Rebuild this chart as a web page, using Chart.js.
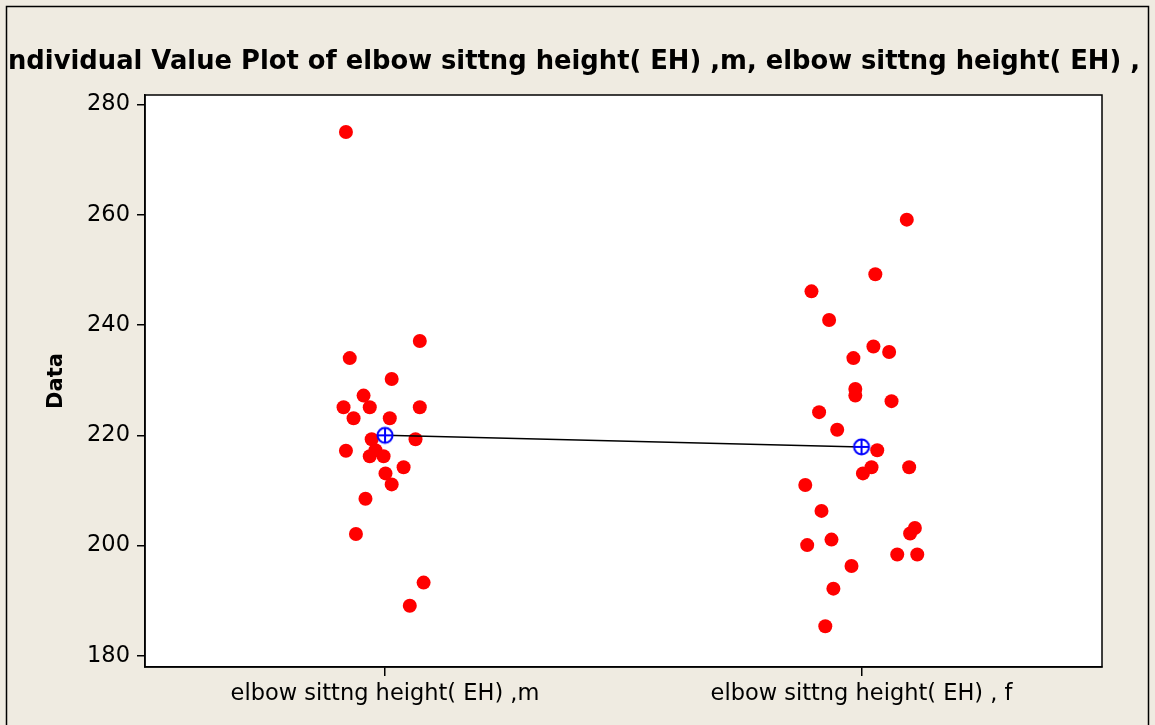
<!DOCTYPE html>
<html><head><meta charset="utf-8">
<script src="https://cdn.jsdelivr.net/npm/chart.js@4/dist/chart.umd.min.js"></script>
<style>html,body{margin:0;padding:0;background:#efebe1;} canvas{display:block;}</style>
</head><body>
<canvas id="c" width="1155" height="725"></canvas>
<script>
const titleText = "Individual Value Plot of elbow sittng height( EH) ,m, elbow sittng height( EH) , f";
const categories = ["elbow sittng height( EH) ,m", "elbow sittng height( EH) , f"];
const yTickValues = [180, 200, 220, 240, 260, 280];
const yAxisTitle = "Data";
const maleValues = [275, 237.1, 234, 230.2, 227.2, 225.1, 225.1, 225.1, 223.1, 223.1, 219.3, 219.3, 217.2, 217.3, 216.2, 216.2, 214.2, 213.1, 211.1, 208.5, 202.1, 193.3, 189.1];
const maleJitter = [-0.082, 0.073, -0.074, 0.014, -0.045, -0.087, -0.032, 0.073, -0.066, 0.010, -0.028, 0.064, -0.082, -0.020, -0.032, -0.003, 0.039, 0.001, 0.014, -0.041, -0.061, 0.081, 0.052];
const femaleValues = [259.1, 249.2, 246.1, 240.9, 236.1, 235.1, 234.0, 228.4, 227.2, 226.2, 224.2, 221.0, 217.3, 214.2, 213.1, 214.2, 211.0, 206.3, 203.2, 202.2, 201.1, 200.1, 198.4, 198.4, 196.3, 192.2, 185.4];
const femaleJitter = [0.095, 0.029, -0.105, -0.068, 0.025, 0.058, -0.017, -0.013, -0.013, 0.063, -0.089, -0.051, 0.033, 0.021, 0.003, 0.100, -0.118, -0.084, 0.112, 0.102, -0.063, -0.114, 0.075, 0.117, -0.021, -0.059, -0.076];
const groupMeans = [220.0, 217.9];

const points = [];
maleValues.forEach((v, i) => points.push({x: 1 + maleJitter[i], y: v}));
femaleValues.forEach((v, i) => points.push({x: 2 + femaleJitter[i], y: v}));
const meanPts = groupMeans.map((m, i) => ({x: i + 1, y: m}));

// mean marker: blue circle with cross
const mk = document.createElement('canvas'); mk.width = 20; mk.height = 20;
const g = mk.getContext('2d');
g.strokeStyle = '#0000ff'; g.lineWidth = 2; g.fillStyle = '#ffffff';
g.beginPath(); g.arc(10, 10, 7.5, 0, Math.PI * 2); g.fill(); g.stroke();
g.beginPath(); g.moveTo(10, 2.5); g.lineTo(10, 17.5); g.moveTo(2.5, 10); g.lineTo(17.5, 10); g.stroke();

const FONT = "'DejaVu Sans'";

const deco = {
  id: 'deco',
  beforeDraw(chart) {
    const {ctx, chartArea: a} = chart;
    ctx.save();
    ctx.fillStyle = '#efebe1';
    ctx.fillRect(0, 0, chart.width, chart.height);
    ctx.strokeStyle = '#000'; ctx.lineWidth = 1.5;
    ctx.strokeRect(6.5, 6.5, 1142, 730);
    ctx.fillStyle = '#ffffff';
    ctx.fillRect(a.left, a.top, a.right - a.left, a.bottom - a.top);
    ctx.restore();
  },
  beforeDatasetsDraw(chart) {
    const {ctx, chartArea: a} = chart;
    ctx.save();
    ctx.strokeStyle = '#000'; ctx.lineWidth = 1.5;
    ctx.strokeRect(a.left, a.top, a.right - a.left, a.bottom - a.top);
    ctx.restore();
  },
  afterDraw(chart) {
    const ctx = chart.ctx;
    ctx.save();
    // clip to the inside of the outer frame
    ctx.beginPath(); ctx.rect(8, 8, 1139, 100); ctx.clip();
    ctx.font = `bold 27px ${FONT}`;
    const vis = titleText.slice(1, titleText.length - 2);
    const w = ctx.measureText(vis).width;
    const sx = 1132 / w;
    const iw = ctx.measureText(titleText[0]).width;
    ctx.fillStyle = '#000';
    ctx.textAlign = 'left';
    ctx.textBaseline = 'alphabetic';
    ctx.translate(8, 69);
    ctx.scale(sx, 1);
    ctx.fillText(titleText, -iw, 0);
    ctx.restore();
  }
};

new Chart(document.getElementById('c').getContext('2d'), {
  type: 'scatter',
  data: {
    datasets: [
      {type: 'line', data: meanPts, borderColor: '#000000', borderWidth: 1.5, pointStyle: mk, pointRadius: 9, fill: false, showLine: true, tension: 0},
      {data: points, backgroundColor: '#ff0000', borderWidth: 0, pointRadius: 7, pointHoverRadius: 7}
    ]
  },
  options: {
    responsive: false, animation: false, devicePixelRatio: 1,
    layout: {padding: {top: 95, right: 53, bottom: 0, left: 0}},
    plugins: {legend: {display: false}, tooltip: {enabled: false}, title: {display: false}},
    scales: {
      x: {
        type: 'linear', min: 0.4963, max: 2.5047,
        afterBuildTicks: a => { a.ticks = categories.map((c, i) => ({value: i + 1})); },
        ticks: {callback: v => categories[Math.round(v) - 1], color: '#000', font: {family: FONT, size: 22.5}, padding: 5, maxRotation: 0, autoSkip: false},
        grid: {drawOnChartArea: false, tickLength: 9, color: '#000', lineWidth: 1.5},
        border: {color: '#000', width: 1.5},
        afterFit: s => { s.height = 58; }
      },
      y: {
        min: 178.0, max: 281.7,
        afterBuildTicks: a => { a.ticks = yTickValues.map(v => ({value: v})); },
        ticks: {color: '#000', font: {family: FONT, size: 22.5}, padding: 7},
        grid: {drawOnChartArea: false, tickLength: 8, color: '#000', lineWidth: 1.5},
        border: {color: '#000', width: 1.5},
        title: {display: true, text: yAxisTitle, color: '#000', font: {family: FONT, size: 21, weight: 'bold'}, padding: {top: 44}},
        afterFit: s => { s.width = 145; }
      }
    }
  },
  plugins: [deco]
});
</script>
</body></html>
